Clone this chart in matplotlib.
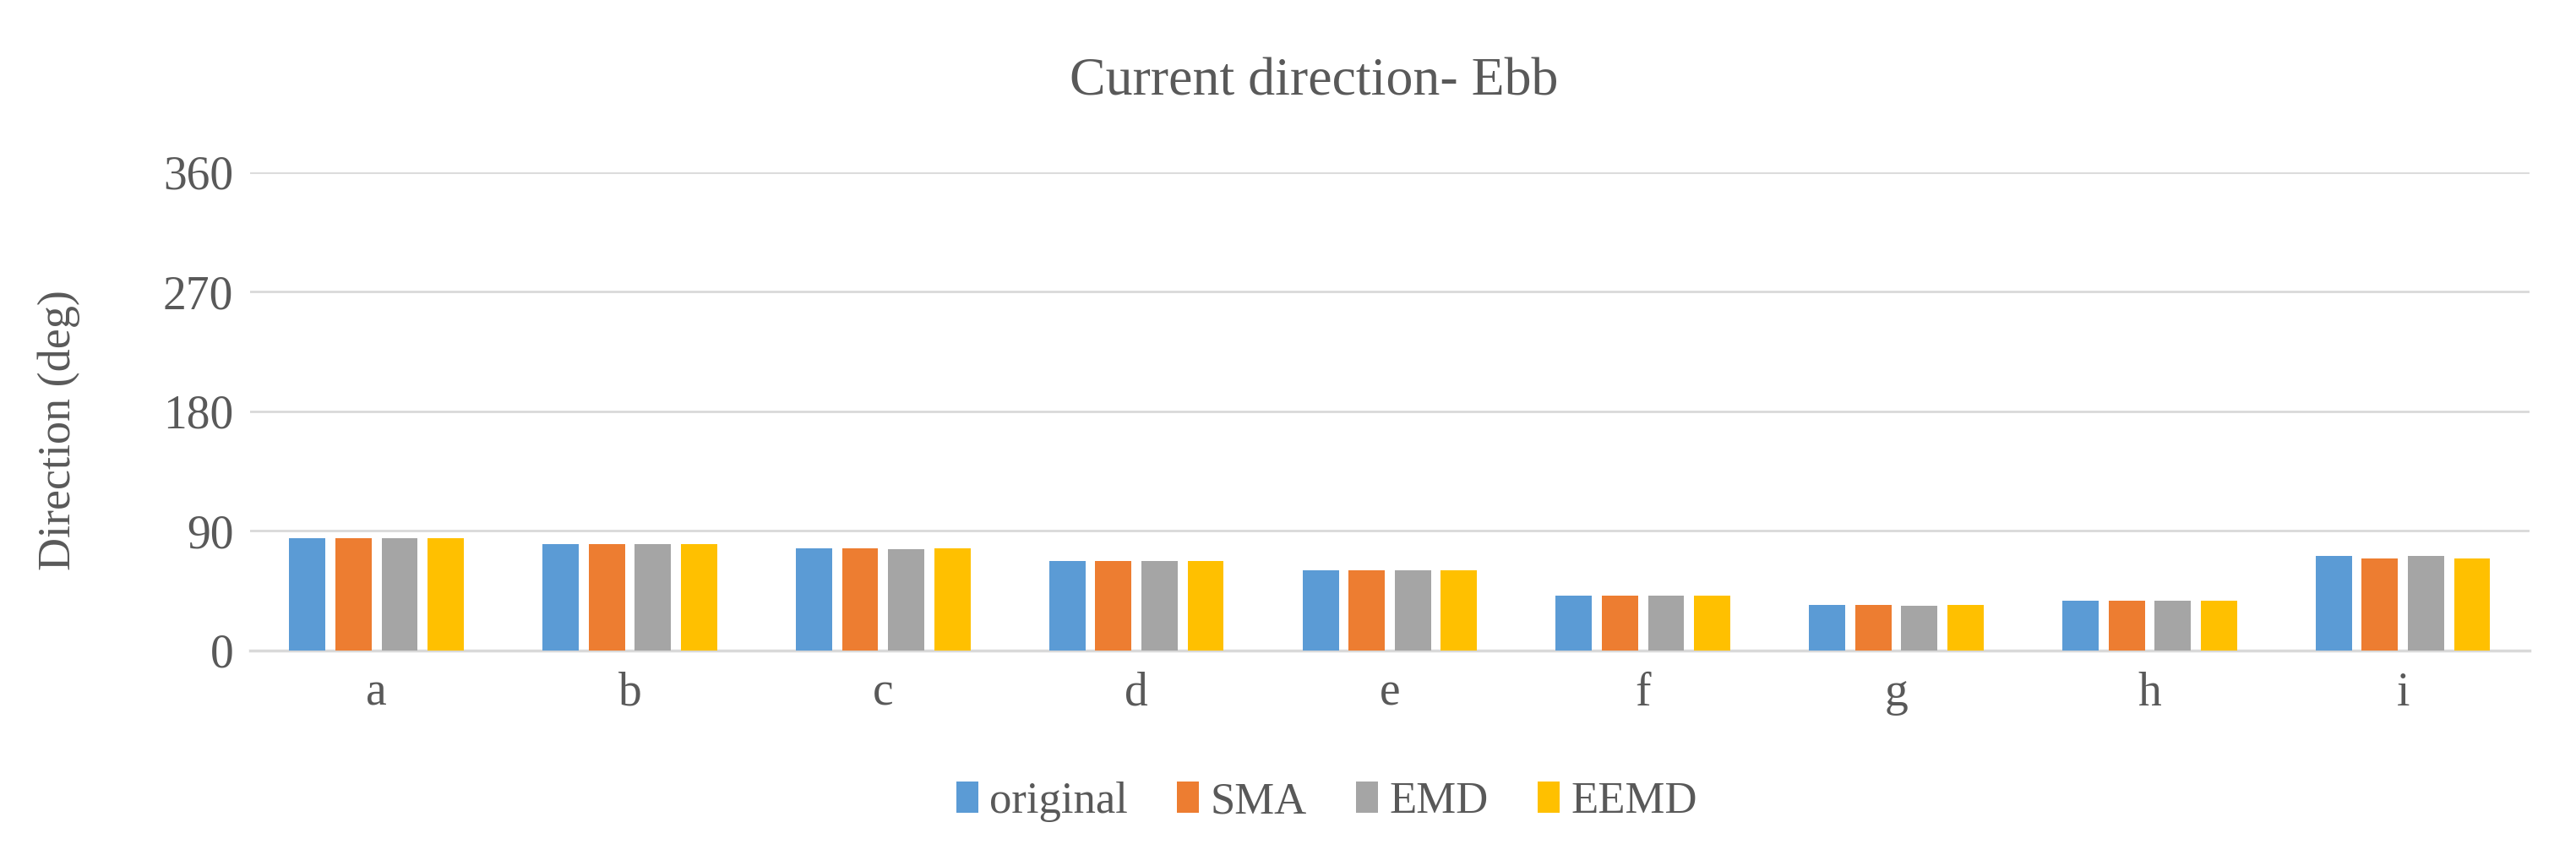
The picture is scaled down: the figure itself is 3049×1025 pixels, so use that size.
import matplotlib.pyplot as plt
import numpy as np
from matplotlib.patches import Patch

# data
categories = ['a', 'b', 'c', 'd', 'e', 'f', 'g', 'h', 'i']
original = [84.2, 80.3, 76.6, 67.6, 60.0, 41.0, 33.9, 37.6, 71.0]
sma = [84.2, 80.3, 76.6, 67.6, 60.0, 41.0, 33.9, 37.6, 69.1]
emd = [84.2, 80.1, 76.5, 67.6, 60.0, 41.0, 33.8, 37.6, 71.0]
eemd = [84.2, 80.3, 76.6, 67.6, 60.0, 41.0, 33.9, 37.6, 69.1]
series_names = ['original', 'SMA', 'EMD', 'EEMD']
colors = ['#5B9BD5', '#ED7D31', '#A5A5A5', '#FFC000']
yticks = [0, 90, 180, 270, 360]

plt.rcParams['font.family'] = ['Liberation Serif', 'DejaVu Serif']
txt = '#595959'

fig = plt.figure(figsize=(30.49, 10.25), dpi=100)
ax = fig.add_axes([0.097, 0.249, 0.885, 0.552])

x = np.arange(len(categories))
step = 0.182
width = 0.143
for k, vals in enumerate([original, sma, emd, eemd]):
    ax.bar(x + (k - 1.5) * step, vals, width, color=colors[k], zorder=3)

ax.set_xlim(-0.5, len(categories) - 0.5)
ax.set_ylim(0, 360)
ax.set_yticks(yticks)
ax.set_xticks(x)
ax.set_xticklabels(categories)
ax.tick_params(axis='both', length=0, labelsize=40, colors=txt)
ax.tick_params(axis='y', pad=14)
ax.tick_params(axis='x', pad=18)
ax.grid(axis='y', color='#D9D9D9', linewidth=2, zorder=0)
for s in ['top', 'right', 'left']:
    ax.spines[s].set_visible(False)
ax.spines['bottom'].set_color('#D9D9D9')
ax.spines['bottom'].set_linewidth(2.5)

fig.text(0.023, 0.503, 'Direction (deg)', rotation=90, ha='center', va='center',
         fontsize=39, color=txt)
fig.text(0.51, 0.905, 'Current direction- Ebb', ha='center', va='center',
         fontsize=46, color=txt)

handles = [Patch(facecolor=c, edgecolor='none') for c in colors]
fig.legend(handles, series_names, loc='center', bbox_to_anchor=(0.515, 0.074),
           ncol=4, frameon=False, fontsize=38, labelcolor=txt,
           handlelength=0.5, handleheight=0.7, handletextpad=0.25,
           columnspacing=1.1)

fig.savefig('out.png', dpi=100)
